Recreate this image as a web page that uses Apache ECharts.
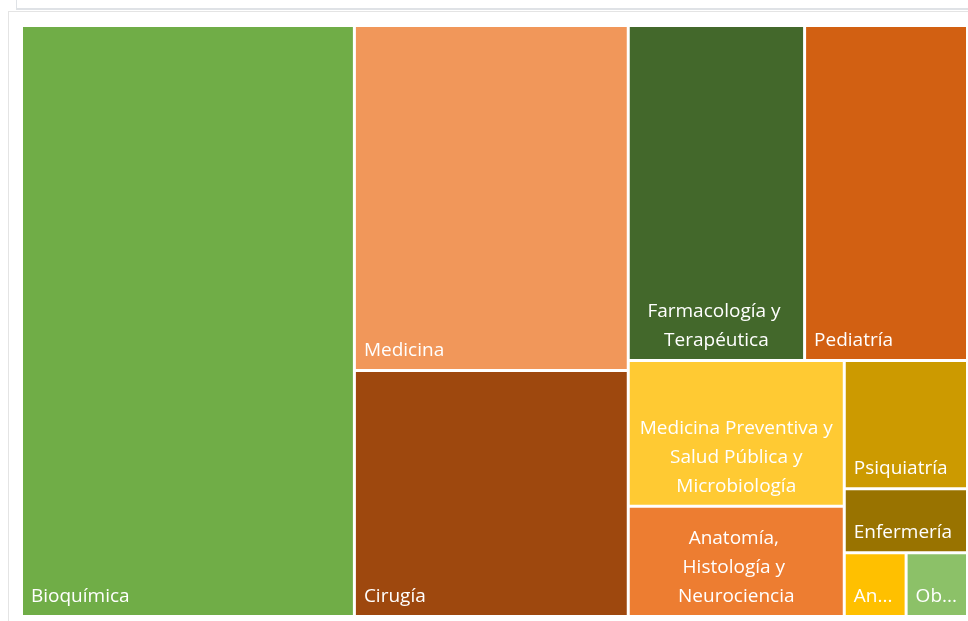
<!DOCTYPE html>
<html>
<head>
<meta charset="utf-8">
<title>Treemap</title>
<script src="https://cdn.jsdelivr.net/npm/echarts@6/dist/echarts.min.js"></script>
<style>
    html, body { margin: 0; padding: 0; background: #fff; overflow: hidden; }
    #topBox { position: absolute; left: 16px; top: -20px; width: 1000px; height: 27px; border: 1px solid #dfe2e6; border-bottom-width: 2px; }
    #frame { position: absolute; left: 8px; top: 11px; width: 1000px; height: 700px; border: 1px solid #e4e4e4; }
    #main { position: absolute; left: 0; top: 0; width: 968px; height: 621px; }
</style>
</head>
<body>
<div id="topBox"></div>
<div id="frame"></div>
<div id="main"></div>
<script>
(function() {

    // departamentos y valores
    var names = [
        'Bioquímica',
        'Medicina',
        'Cirugía',
        'Farmacología y Terapéutica',
        'Pediatría',
        'Medicina Preventiva y Salud Pública y Microbiología',
        'Anatomía, Histología y Neurociencia',
        'Psiquiatría',
        'Enfermería',
        'Anatomía Patológica',
        'Obstetricia y Ginecología'
    ];
    var values = [196.8, 94.5, 67.4, 59.1, 54.6, 31.5, 23.8, 15.8, 7.9, 3.94, 3.91];
    var colors = ['#70AD47', '#F1975A', '#9E480E', '#43682B', '#D26012', '#FFCA33',
                  '#ED7D31', '#CC9A00', '#997300', '#FFC000', '#8CC168'];
    // etiquetas largas: se parten en varias líneas y se centran
    var wrapped = ['Farmacología y Terapéutica',
                   'Medicina Preventiva y Salud Pública y Microbiología',
                   'Anatomía, Histología y Neurociencia'];

    var data = names.map(function(n, i) {
        var item = {
            name: n,
            value: values[i],
            itemStyle: { color: colors[i] }
        };
        if (wrapped.indexOf(n) > -1) {
            item.label = { position: 'insideBottom', align: 'center', overflow: 'break' };
        }
        return item;
    });

    var chart = echarts.init(document.getElementById('main'));
    chart.setOption({
        animation: false,
        series: [{
            type: 'treemap',
            left: 23,
            top: 27,
            width: 943,
            height: 588,
            squareRatio: 1.1,
            roam: false,
            nodeClick: false,
            silent: true,
            breadcrumb: { show: false },
            label: {
                show: true,
                position: 'insideBottomLeft',
                distance: 0,
                padding: [0, 8, 4, 8],
                fontFamily: 'Open Sans',
                fontSize: 19,
                lineHeight: 29,
                color: '#fff',
                overflow: 'truncate'
            },
            itemStyle: { borderWidth: 0, gapWidth: 3 },
            levels: [{ itemStyle: { borderWidth: 0, gapWidth: 3 } }],
            data: data
        }]
    });
})();
</script>
</body>
</html>
